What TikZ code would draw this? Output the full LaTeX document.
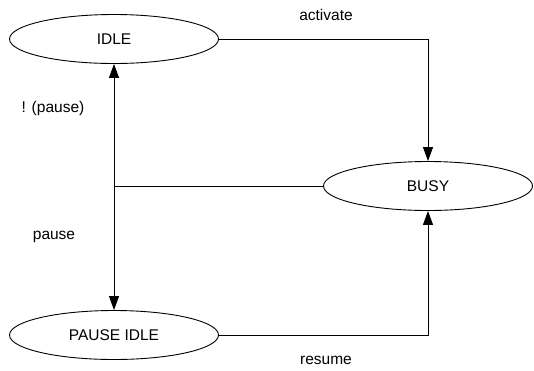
\documentclass[tikz,border=0pt]{standalone}
\usepackage{fontspec}
\setmainfont{Liberation Sans}
\usetikzlibrary{shapes.geometric,arrows.meta}

\begin{document}
\begin{tikzpicture}[>={Triangle[length=14pt,width=10pt]},x=1pt,y=-1pt,line width=0.9pt,
	zustand/.style={draw,ellipse,minimum width=209pt,minimum height=49pt,inner sep=0pt,font=\fontsize{15.5}{18}\selectfont},
	beschrift/.style={font=\fontsize{15.5}{18}\selectfont}]

\useasboundingbox (0,0) rectangle (534,370);

\node[zustand] (idle)  at (114,39)  {IDLE};
\node[zustand] (busy)  at (428,186) {BUSY};
\node[zustand] (pidle) at (114,335) {PAUSE IDLE};

\coordinate (knoten) at (114,186);

\draw[->] (idle.east) -| (busy.north);
\draw[->] (pidle.east) -| (busy.south);
\draw (busy.west) -- (knoten);
\draw[->] (knoten) -- (idle.south);
\draw[->] (knoten) -- (pidle.north);

\node[beschrift] (lact) at (326,15)  {activate};
\node[beschrift] (lnp)  at (53,108)  {! (pause)};
\node[beschrift] (lp)   at (54,237)  {pause};
\node[beschrift] (lres) at (326,360) {resume};

\end{tikzpicture}
\end{document}
